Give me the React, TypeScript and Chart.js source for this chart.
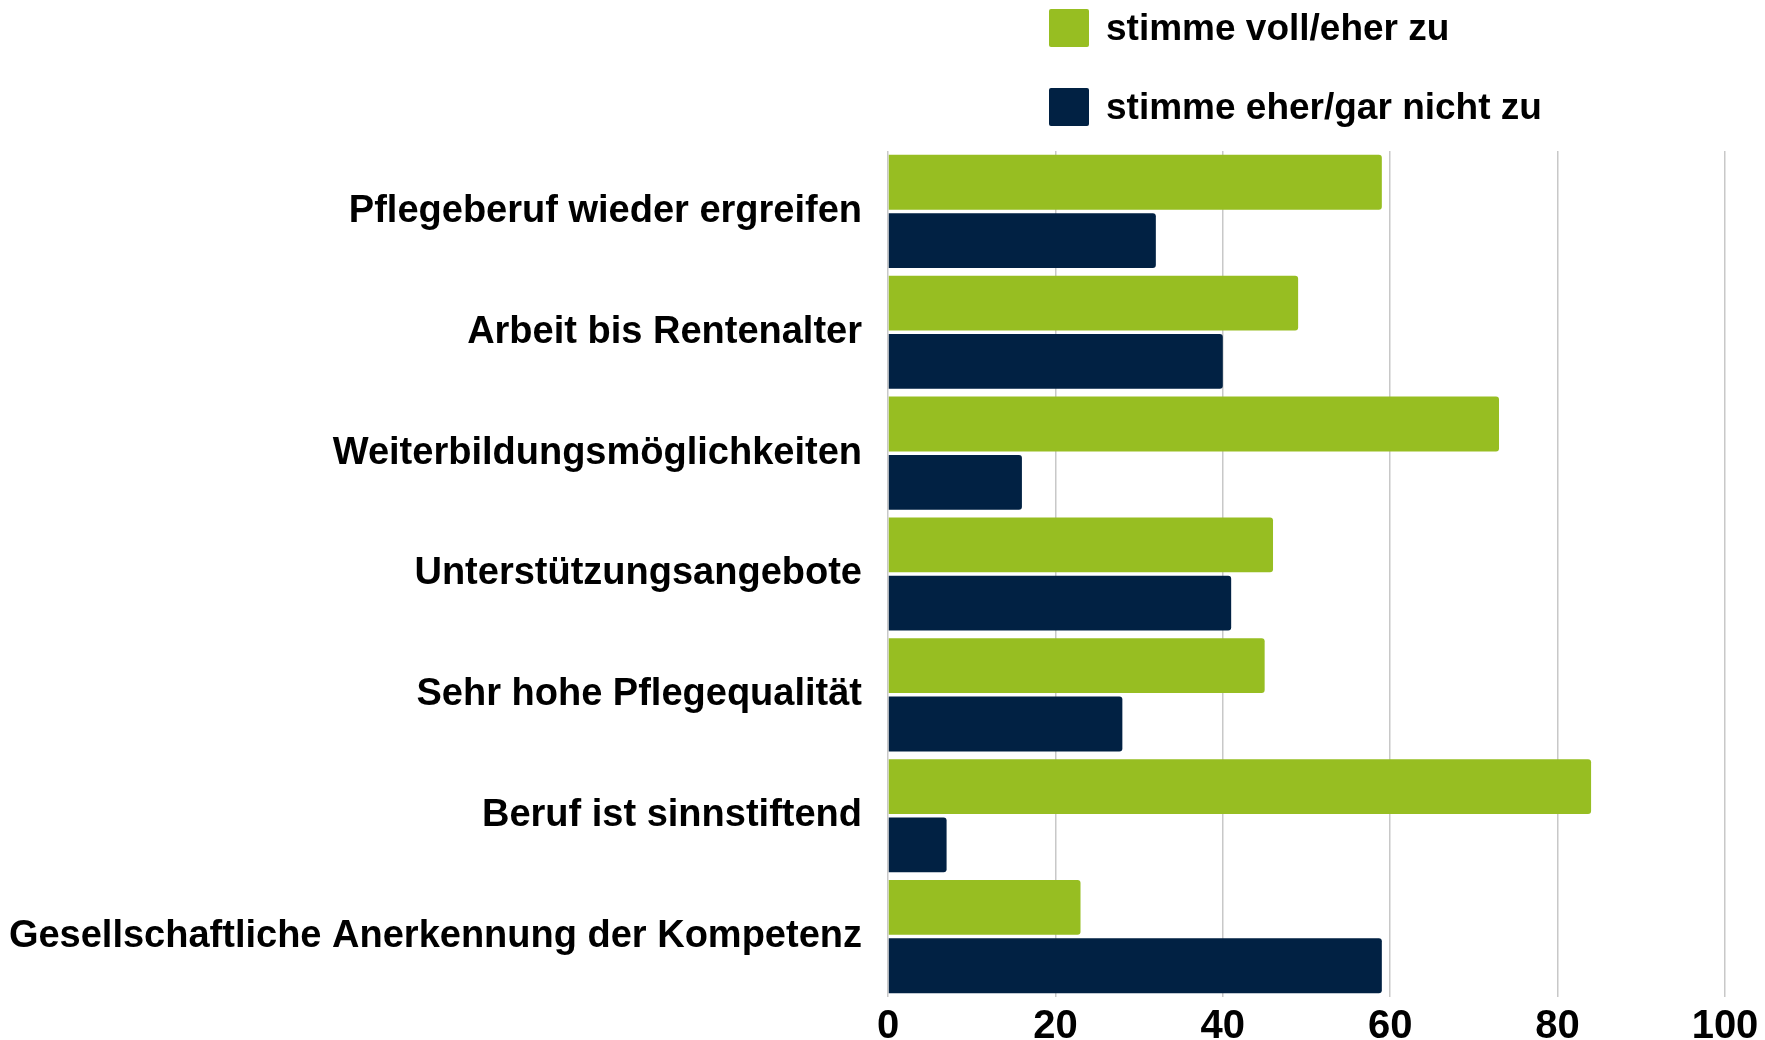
import React, { useEffect, useRef } from "react";
import { Chart, registerables } from "chart.js";

Chart.register(...registerables);

const categories = [
  "Pflegeberuf wieder ergreifen",
  "Arbeit bis Rentenalter",
  "Weiterbildungsmöglichkeiten",
  "Unterstützungsangebote",
  "Sehr hohe Pflegequalität",
  "Beruf ist sinnstiftend",
  "Gesellschaftliche Anerkennung der Kompetenz",
];
const seriesNames = ["stimme voll/eher zu", "stimme eher/gar nicht zu"];
const agreeValues = [59, 49, 73, 46, 45, 84, 23];
const disagreeValues = [32, 40, 16, 41, 28, 7, 59];
const tickValues = [0, 20, 40, 60, 80, 100];
const colors = ["#97be22", "#012143"];

const FONT = "'Liberation Sans', Arial, sans-serif";

const verticalLegend = {
  id: "verticalLegend",
  afterDraw(chart: any) {
    const ctx = chart.ctx;
    ctx.save();
    chart.data.datasets.forEach((ds: any, i: number) => {
      const y = 9 + i * 79;
      ctx.fillStyle = ds.backgroundColor;
      ctx.beginPath();
      (ctx as any).roundRect(1049, y, 40, 38, 2);
      ctx.fill();
      ctx.fillStyle = "#000";
      ctx.font = `bold 37px ${FONT}`;
      ctx.textBaseline = "middle";
      ctx.textAlign = "left";
      ctx.fillText(ds.label, 1106, y + 21);
    });
    ctx.restore();
  },
};

export default function App() {
  const ref = useRef<HTMLCanvasElement>(null);
  useEffect(() => {
    document.body.style.margin = "0";
    const chart = new Chart(ref.current!, {
      type: "bar",
      data: {
        labels: categories,
        datasets: [
          {
            label: seriesNames[0],
            data: agreeValues,
            backgroundColor: colors[0],
            borderRadius: 3,
            borderSkipped: "start",
            barPercentage: 0.94,
            categoryPercentage: 0.965,
          },
          {
            label: seriesNames[1],
            data: disagreeValues,
            backgroundColor: colors[1],
            borderRadius: 3,
            borderSkipped: "start",
            barPercentage: 0.94,
            categoryPercentage: 0.965,
          },
        ],
      },
      options: {
        indexAxis: "y",
        animation: false,
        responsive: false,
        maintainAspectRatio: false,
        layout: { padding: { top: 151, right: 40, left: 0, bottom: 0 } },
        plugins: { legend: { display: false }, tooltip: { enabled: false } },
        scales: {
          x: {
            min: 0,
            max: 100,
            afterBuildTicks: (scale: any) => {
              scale.ticks = tickValues.map((v) => ({ value: v }));
            },
            afterFit: (scale: any) => {
              scale.height = 43;
            },
            grid: { color: "#c8c8c8", lineWidth: 1.5, drawTicks: false },
            border: { display: false },
            ticks: {
              padding: 6,
              color: "#000",
              font: { family: FONT, size: 40, weight: "bold" },
              maxRotation: 0,
            },
          },
          y: {
            afterFit: (scale: any) => {
              scale.width = 888;
              scale.paddingTop = 0;
              scale.paddingBottom = 0;
            },
            grid: { display: false, drawTicks: false },
            border: { display: false },
            ticks: {
              padding: 26,
              color: "#000",
              font: { family: FONT, size: 38, weight: "bold" },
            },
          },
        },
      },
      plugins: [verticalLegend],
    });
    return () => chart.destroy();
  }, []);
  return <canvas ref={ref} width={1765} height={1040} style={{ display: "block" }} />;
}
